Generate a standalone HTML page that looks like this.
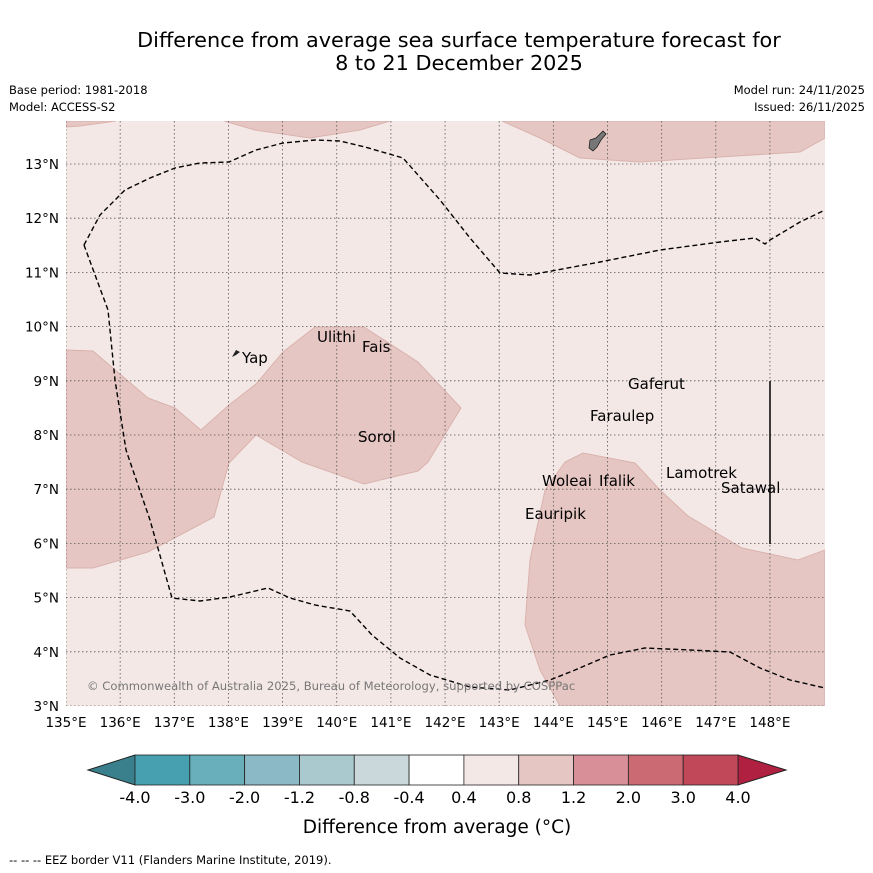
<!DOCTYPE html>
<html><head><meta charset="utf-8"><style>
body{margin:0;background:#fff;}
svg{display:block;font-family:"DejaVu Sans","Liberation Sans",sans-serif;}
</style></head><body>
<svg id="s" width="873" height="873" viewBox="0 0 873 873" xmlns="http://www.w3.org/2000/svg">
<rect width="873" height="873" fill="#fff"/>
<text x="459" y="47" font-size="20.8" text-anchor="middle">Difference from average sea surface temperature forecast for</text>
<text x="459" y="70" font-size="20.8" text-anchor="middle">8 to 21 December 2025</text>
<text x="9" y="94" font-size="11.5">Base period: 1981-2018</text>
<text x="9" y="111" font-size="11.5">Model: ACCESS-S2</text>
<text x="865" y="94" font-size="11.5" text-anchor="end">Model run: 24/11/2025</text>
<text x="865" y="111" font-size="11.5" text-anchor="end">Issued: 26/11/2025</text>
<defs><clipPath id="mc"><rect x="66" y="121" width="759" height="585"/></clipPath></defs>
<g id="map" clip-path="url(#mc)">
<rect x="66" y="121" width="759" height="585" fill="#f4e8e7"/>
<g fill="#e6c6c2" stroke="#d9b3ae" stroke-width="1">
<path d="M66,350 L93,351 L148,398 L175,408 L201,430 L229,405 L256,384 L283,352 L315,327 L364,327 L418,362 L461,408 L428,462 L418,471 L364,484 L302,462 L256,435 L229,463 L214,517 L148,552 L93,568 L66,568 Z"/>
<path d="M525,625 L530,560 L545,490 L565,462 L583,453 L635,463 L660,490 L688,516 L742,548 L798,560 L825,550 L825,706 L560,706 L540,670 Z"/>
<path d="M66,121 L116,121 L80,126 L66,127 Z"/>
<path d="M224,121 L255,130 L310,138 L360,130 L390,121 Z"/>
<path d="M502,121 L540,138 L580,158 L640,162 L720,157 L800,152 L825,138 L825,121 Z"/>
</g>
<g id="grid" stroke="#555" stroke-width="0.8" stroke-dasharray="1.5,2.5"></g>
<g fill="none" stroke="#000" stroke-width="1.4" stroke-dasharray="5,3">
<path d="M84,245 L100,215 L125,190 L150,178 L175,168 L200,163 L229,162 L256,150 L283,143 L315,140 L340,141 L365,147 L403,158 L440,200 L470,238 L500,273 L530,275 L600,262 L660,250 L720,242 L755,238 L765,244 L770,240 L800,222 L825,210"/>
<path d="M84,245 L108,310 L115,380 L126,450 L150,520 L172,598 L200,601 L230,597 L268,588 L290,598 L315,605 L350,611 L372,635 L400,658 L430,675 L470,687 L510,690 L550,680 L575,670 L610,655 L645,648 L690,650 L730,652 L760,668 L790,680 L825,688"/>
</g>
<line x1="770" y1="381" x2="770" y2="544" stroke="#000" stroke-width="1.5"/>
<path d="M590,140 L596,138 L603,131 L606,134 L601,140 L597,147 L593,151 L589,148 Z" fill="#777" stroke="#222" stroke-width="0.8"/>
<path d="M232,357 L236,350 L240,352 L236,355 Z" fill="#222"/>
<g font-size="15" fill="#000">
<text x="242" y="363">Yap</text>
<text x="317" y="342">Ulithi</text>
<text x="362" y="352">Fais</text>
<text x="358" y="442">Sorol</text>
<text x="628" y="389">Gaferut</text>
<text x="590" y="421">Faraulep</text>
<text x="542" y="486">Woleai</text>
<text x="599" y="486">Ifalik</text>
<text x="666" y="478">Lamotrek</text>
<text x="721" y="493">Satawal</text>
<text x="525" y="519">Eauripik</text>
</g>
<text x="87" y="690" font-size="11.6" fill="#777">© Commonwealth of Australia 2025, Bureau of Meteorology, supported by COSPPac</text>
</g>
<g id="ticks" font-size="13.5"></g>
<g id="cbar"></g>
<text x="437" y="833" font-size="18.5" text-anchor="middle">Difference from average (°C)</text>
<text x="9" y="864" font-size="11.5">--  --  -- EEZ border V11 (Flanders Marine Institute, 2019).</text>
</svg>
<script>
const lonTicks=[135,136,137,138,139,140,141,142,143,144,145,146,147,148];
const latTicks=[3,4,5,6,7,8,9,10,11,12,13];
const cbLabels=["-4.0","-3.0","-2.0","-1.2","-0.8","-0.4","0.4","0.8","1.2","2.0","3.0","4.0"];
const cbColors=["#46a0b0","#69aebb","#8bb9c5","#a9c9ce","#cad7db","#ffffff","#f4e8e7","#e6c6c2","#d88f97","#cc6a74","#c04858"];
const NS="http://www.w3.org/2000/svg";
const X=lon=>66+(lon-135)*54.15, Y=lat=>706-(lat-3)*54.2;
const grid=document.getElementById('grid'), ticks=document.getElementById('ticks');
function mk(tag,a,p){const e=document.createElementNS(NS,tag);for(const k in a)e.setAttribute(k,a[k]);p.appendChild(e);return e;}
lonTicks.forEach(l=>{
 const g=mk('line',{x1:X(l),x2:X(l),y1:121,y2:706},grid);
 
 
 const t=mk('text',{x:X(l),y:727,'text-anchor':'middle'},ticks);t.textContent=l+'°E';
 
 
});
latTicks.forEach(l=>{
 const g=mk('line',{x1:66,x2:825,y1:Y(l),y2:Y(l)},grid);
 
 
 const t=mk('text',{x:59,y:Y(l)+5,'text-anchor':'end'},ticks);t.textContent=l+'°N';
 
 
});
const cb=document.getElementById('cbar');
const x0=135,x1=738,w=(x1-x0)/cbColors.length,y0=755,h=30;
const lt=mk('polygon',{points:`${x0},${y0} ${x0},${y0+h} 88,${y0+h/2}`,fill:'#3a7f8c',stroke:'#222'},cb);


const rt=mk('polygon',{points:`${x1},${y0} ${x1},${y0+h} 786,${y0+h/2}`,fill:'#b02040',stroke:'#222'},cb);


cbColors.forEach((c,i)=>{
 const r=mk('rect',{x:x0+i*w,y:y0,width:w,height:h,fill:c,stroke:'#222','stroke-width':0.8},cb);
 
 
});
cbLabels.forEach((s,i)=>{
 const t=mk('text',{x:x0+i*w,y:803,'text-anchor':'middle','font-size':16},cb);t.textContent=s;
 
 
});
</script>
</body></html>
